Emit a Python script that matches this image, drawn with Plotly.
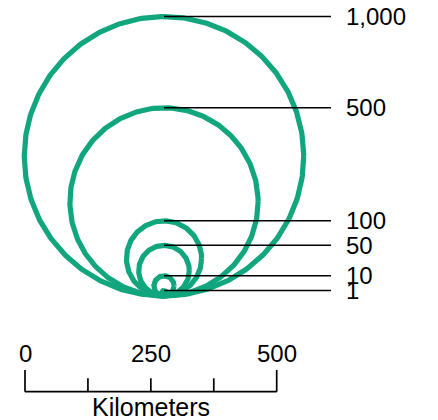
import numpy as np
import plotly.graph_objects as go

# ---- data ----
symbol_values = [1000, 500, 100, 50, 10, 1]
symbol_labels = ["1,000", "500", "100", "50", "10", "1"]
scale_ticks_km = [0, 125, 250, 375, 500]
scale_label_km = [0, 250, 500]
scale_label_text = ["0", "250", "500"]
scale_title = "Kilometers"

# ---- layout constants (pixel-like data space) ----
W, H = 438, 420
BASE_X, BASE_Y = 164, 296          # common tangent point of circles
R_MAX, V_MAX, EXP = 139.7, 1000, 0.57
LEAD_END = 331
LABEL_X = 344
GREEN = "#11a67e"
FONT = "Liberation Sans, Arial, sans-serif"
FS = 24

SB_X0, SB_PX_PER_KM = 25, 251.7 / 500
SB_Y, SB_MAJOR_TOP, SB_MINOR_TOP = 391.7, 370, 378.3
SB_LABEL_Y, SB_TITLE_Y = 353, 407

def radius(v):
    return R_MAX * (v / V_MAX) ** EXP

def km_x(km):
    return SB_X0 + km * SB_PX_PER_KM

fig = go.Figure()
t = np.linspace(0, 2 * np.pi, 400)
for v in symbol_values:
    r = radius(v)
    cy = BASE_Y - r
    fig.add_trace(go.Scatter(x=BASE_X + r * np.cos(t), y=cy + r * np.sin(t),
                             mode="lines", line=dict(color=GREEN, width=5.2),
                             hoverinfo="skip", showlegend=False))

annotations = []
for v, lab in zip(symbol_values, symbol_labels):
    ytop = BASE_Y - 2 * radius(v)
    fig.add_trace(go.Scatter(x=[BASE_X, LEAD_END], y=[ytop, ytop], mode="lines",
                             line=dict(color="black", width=1.5),
                             hoverinfo="skip", showlegend=False))
    annotations.append(dict(x=LABEL_X, y=ytop, text=lab, showarrow=False,
                            xanchor="left", yanchor="middle",
                            font=dict(family=FONT, size=FS, color="black")))

# scale bar
fig.add_trace(go.Scatter(x=[km_x(scale_ticks_km[0]), km_x(scale_ticks_km[-1])],
                         y=[SB_Y, SB_Y], mode="lines",
                         line=dict(color="black", width=1.7),
                         hoverinfo="skip", showlegend=False))
for km in scale_ticks_km:
    top = SB_MAJOR_TOP if km in (scale_ticks_km[0], scale_ticks_km[-1]) else SB_MINOR_TOP
    fig.add_trace(go.Scatter(x=[km_x(km), km_x(km)], y=[top, SB_Y], mode="lines",
                             line=dict(color="black", width=1.7),
                             hoverinfo="skip", showlegend=False))
for km, txt in zip(scale_label_km, scale_label_text):
    annotations.append(dict(x=km_x(km), y=SB_LABEL_Y, text=txt, showarrow=False,
                            xanchor="center", yanchor="middle",
                            font=dict(family=FONT, size=FS, color="black")))
annotations.append(dict(x=km_x(scale_label_km[1]), y=SB_TITLE_Y, text=scale_title,
                        showarrow=False, xanchor="center", yanchor="middle",
                        font=dict(family=FONT, size=FS + 1, color="black")))

fig.update_layout(
    width=W, height=H, autosize=False,
    margin=dict(l=0, r=0, t=0, b=0),
    paper_bgcolor="white", plot_bgcolor="white",
    xaxis=dict(range=[0, W], visible=False, fixedrange=True),
    yaxis=dict(range=[H, 0], visible=False, fixedrange=True),
    annotations=annotations,
    showlegend=False,
)
fig.write_html("out.html", config={"displayModeBar": False},
               post_script="document.body.style.margin='0';document.body.style.overflow='hidden';")
